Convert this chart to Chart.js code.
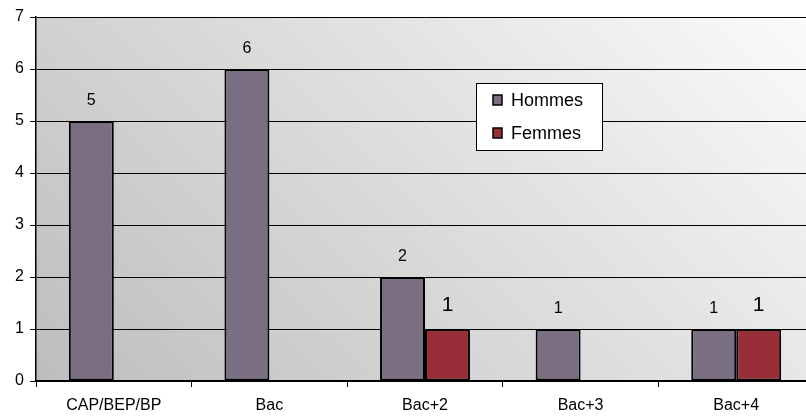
<!DOCTYPE html>
<html>
<head>
<meta charset="utf-8">
<script src="https://cdn.jsdelivr.net/npm/chart.js@4/dist/chart.umd.min.js"></script>
<style>
  html, body { margin: 0; padding: 0; background: #fff; overflow: hidden; }
  #wrap { position: relative; width: 818px; height: 417px; }
</style>
</head>
<body>
<div id="wrap"><canvas id="chart"></canvas></div>
<script>
// Niveau de diplôme - Hommes / Femmes
const categories = ["CAP/BEP/BP", "Bac", "Bac+2", "Bac+3", "Bac+4"];
const hommes = [5, 6, 2, 1, 1];
const femmes = [null, null, 1, null, 1];
const yTicks = [0, 1, 2, 3, 4, 5, 6, 7];

const FONT = "'Liberation Sans', Arial, Helvetica, sans-serif";

// 45 degree gradient background inside the plot area
const plotBackground = {
    id: 'plotBackground',
    beforeDraw(chart) {
        const { ctx, chartArea: a } = chart;
        const w = a.right - a.left, h = a.bottom - a.top;
        const d = (w + h) / 2;
        const g = ctx.createLinearGradient(a.left, a.bottom, a.left + d, a.bottom - d);
        g.addColorStop(0, '#bdbdbd');
        g.addColorStop(1, '#fbfbfb');
        ctx.save();
        ctx.fillStyle = g;
        ctx.fillRect(a.left, a.top, w, h);
        ctx.restore();
    }
};

// value labels above the bars
const valueLabels = {
    id: 'valueLabels',
    afterDatasetsDraw(chart) {
        const ctx = chart.ctx;
        ctx.save();
        ctx.fillStyle = '#000';
        ctx.textAlign = 'center';
        ctx.textBaseline = 'middle';
        chart.data.datasets.forEach((ds, i) => {
            const meta = chart.getDatasetMeta(i);
            const size = i === 0 ? 16 : 21;
            const gap = i === 0 ? 20 : 24;
            ctx.font = size + 'px ' + FONT;
            meta.data.forEach((bar, j) => {
                const v = ds.data[j];
                if (v === null) return;
                ctx.fillText(String(v), bar.x, bar.y - gap);
            });
        });
        ctx.restore();
    }
};

// boxed legend inside the plot
const boxLegend = {
    id: 'boxLegend',
    afterDraw(chart) {
        const ctx = chart.ctx;
        const x = 476, y = 83, w = 126, h = 67;
        ctx.save();
        ctx.fillStyle = '#fff';
        ctx.fillRect(x, y, w, h);
        ctx.strokeStyle = '#000';
        ctx.lineWidth = 1;
        ctx.strokeRect(x + 0.5, y + 0.5, w, h);
        ctx.font = '18px ' + FONT;
        ctx.textBaseline = 'middle';
        chart.data.datasets.forEach((ds, i) => {
            const cy = 100 + i * 33;
            ctx.fillStyle = ds.backgroundColor;
            ctx.fillRect(493, cy - 5, 9, 10);
            ctx.lineWidth = 1.5;
            ctx.strokeStyle = '#000';
            ctx.strokeRect(493, cy - 5, 9, 10);
            ctx.fillStyle = '#000';
            ctx.fillText(ds.label, 511, cy + 1);
        });
        ctx.restore();
    }
};

new Chart(document.getElementById('chart'), {
    type: 'bar',
    data: {
        labels: categories,
        datasets: [
            {
                label: 'Hommes',
                data: hommes,
                backgroundColor: '#7a6e82',
                borderColor: '#000',
                borderWidth: 2,
                borderSkipped: false,
                barPercentage: 1.0,
                categoryPercentage: 0.578
            },
            {
                label: 'Femmes',
                data: femmes,
                backgroundColor: '#982e37',
                borderColor: '#000',
                borderWidth: 2,
                borderSkipped: false,
                barPercentage: 1.0,
                categoryPercentage: 0.578
            }
        ]
    },
    options: {
        responsive: true,
        maintainAspectRatio: false,
        animation: false,
        layout: { padding: { top: 17, right: 4, left: 0, bottom: 0 } },
        plugins: {
            legend: { display: false },
            tooltip: { enabled: false }
        },
        scales: {
            x: {
                offset: true,
                grid: {
                    offset: true,
                    drawOnChartArea: false,
                    drawTicks: true,
                    tickLength: 6,
                    color: '#000'
                },
                border: { color: '#000', width: 1.5 },
                ticks: {
                    color: '#000',
                    font: { family: FONT, size: 16 },
                    padding: 9,
                    maxRotation: 0
                },
                afterFit(scale) { scale.height = 36; }
            },
            y: {
                min: 0,
                max: 7,
                afterBuildTicks(scale) { scale.ticks = yTicks.map(v => ({ value: v })); },
                grid: {
                    color: '#000',
                    lineWidth: 1,
                    tickLength: 6
                },
                border: { color: '#000', width: 1.5 },
                ticks: {
                    color: '#000',
                    font: { family: FONT, size: 16 },
                    padding: 6
                },
                afterFit(scale) { scale.width = 36; }
            }
        }
    },
    plugins: [plotBackground, valueLabels, boxLegend]
});
</script>
</body>
</html>
